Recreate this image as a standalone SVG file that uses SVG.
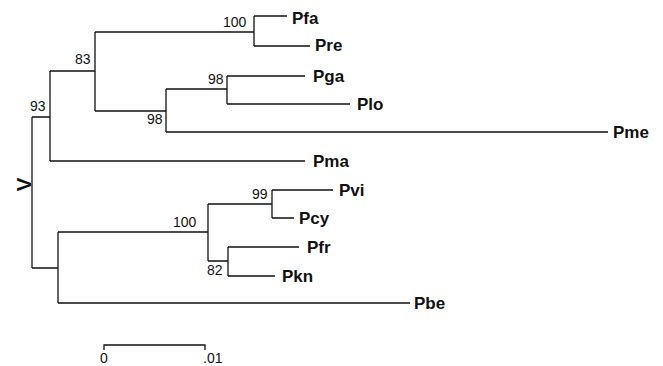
<svg xmlns="http://www.w3.org/2000/svg" width="663" height="366" viewBox="0 0 663 366">
<style>
.br{fill:none;stroke:#111;stroke-width:1.3}
.lf{font-family:"Liberation Sans",Arial,sans-serif;font-weight:bold;font-size:17px;fill:#111}
.bs{font-family:"Liberation Sans",Arial,sans-serif;font-size:14px;fill:#111}
</style>
<rect width="663" height="366" fill="#fff"/>
<g id="connectors">
<path class="br" d="M32,117 V268"/>
<path class="br" d="M32,117 H50 M50,71 V161 M50,161 H305"/>
<path class="br" d="M50,71 H95 M95,32 V111"/>
<path class="br" d="M95,32 H254 M254,16 V46 M254,16 H287 M254,46 H310"/>
<path class="br" d="M95,111 H166 M166,89 V132 M166,132 H608"/>
<path class="br" d="M166,89 H227 M227,76 V104 M227,76 H305 M227,104 H350"/>
<path class="br" d="M32,268 H58 M58,232 V303 M58,303 H410"/>
<path class="br" d="M58,232 H208 M208,204 V261"/>
<path class="br" d="M208,204 H272 M272,190 V218 M272,190 H333 M272,218 H294"/>
<path class="br" d="M208,261 H228 M228,247 V276 M228,247 H299 M228,276 H275"/>
</g>
<g id="bootstrap">
<text class="bs" x="30" y="111">93</text>
<text class="bs" x="75" y="64">83</text>
<text class="bs" x="223" y="27">100</text>
<text class="bs" x="147" y="124">98</text>
<text class="bs" x="208" y="84">98</text>
<text class="bs" x="173" y="227">100</text>
<text class="bs" x="252" y="199">99</text>
<text class="bs" x="207" y="275">82</text>
</g>
<g id="node-Pfa"><text class="lf" x="292" y="24">Pfa</text></g>
<g id="node-Pre"><text class="lf" x="315" y="51">Pre</text></g>
<g id="node-Pga"><text class="lf" x="313" y="82">Pga</text></g>
<g id="node-Plo"><text class="lf" x="357" y="110">Plo</text></g>
<g id="node-Pme"><text class="lf" x="613" y="138">Pme</text></g>
<g id="node-Pma"><text class="lf" x="313" y="167">Pma</text></g>
<g id="node-Pvi"><text class="lf" x="339" y="196">Pvi</text></g>
<g id="node-Pcy"><text class="lf" x="299" y="224">Pcy</text></g>
<g id="node-Pfr"><text class="lf" x="307" y="253">Pfr</text></g>
<g id="node-Pkn"><text class="lf" x="282" y="282">Pkn</text></g>
<g id="node-Pbe"><text class="lf" x="414" y="309">Pbe</text></g>
<g id="root-label"><text x="0" y="0" transform="translate(30.5,184.5) rotate(-90)" text-anchor="middle" style="font-family:'Liberation Sans',Arial,sans-serif;font-weight:bold;font-size:21px;fill:#111">V</text></g>
<g id="scale-bar">
<path class="br" d="M104,350 V345 H205 V350"/>
<text class="bs" x="104" y="363" text-anchor="middle">0</text>
<text class="bs" x="203" y="363">.01</text>
</g>
</svg>
